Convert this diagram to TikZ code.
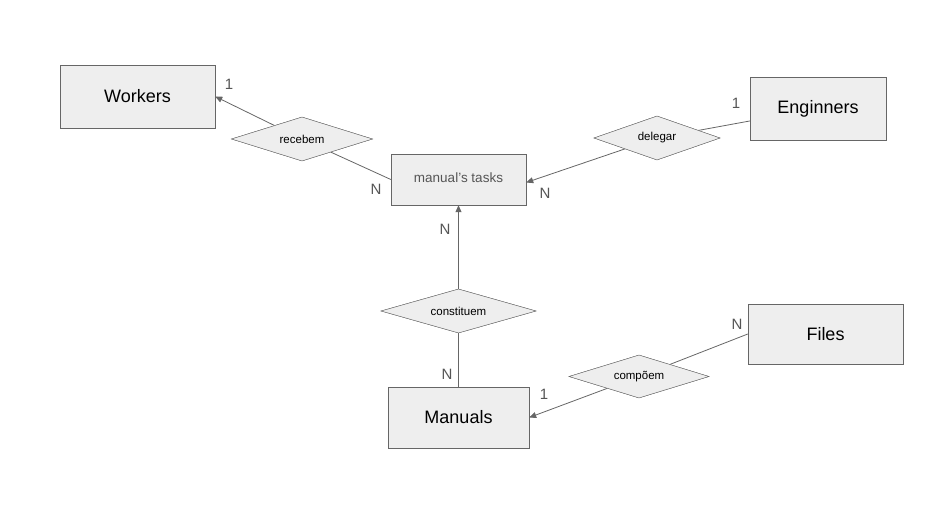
\documentclass[tikz,border=0pt]{standalone}
\usepackage{fontspec}
\setmainfont{Liberation Sans}
\usetikzlibrary{shapes.geometric,arrows.meta}
\definecolor{boxfill}{HTML}{EEEEEE}
\definecolor{boxline}{HTML}{666666}
\definecolor{cardtext}{HTML}{555555}
\begin{document}
\begin{tikzpicture}[x=1pt,y=-1pt,
  entity/.style={draw=boxline,fill=boxfill,inner sep=0pt,font=\fontsize{18}{21}\selectfont},
  relation/.style={diamond,draw=boxline,fill=boxfill,inner sep=0pt,aspect=3,font=\fontsize{11.5}{13}\selectfont},
  link/.style={draw=boxline,line width=0.8pt},
  card/.style={text=cardtext,font=\fontsize{15}{17}\selectfont}
]
\useasboundingbox (0,0) rectangle (934,510);
% entities
\node[entity,minimum width=155pt,minimum height=63pt] (workers) at (137.5,96.5) {Workers};
\node[entity,minimum width=135pt,minimum height=51pt,text=cardtext,font=\fontsize{13.5}{15}\selectfont] (tasks) at (458.5,179.5) {\raisebox{4pt}{manual's tasks}};
\node[entity,minimum width=136pt,minimum height=63pt] (enginners) at (818,108.5) {Enginners};
\node[entity,minimum width=141pt,minimum height=61pt] (manuals) at (458.5,417.5) {Manuals};
\node[entity,minimum width=155pt,minimum height=60pt] (files) at (825.5,334) {Files};
% relations
\node[relation,minimum width=141pt,minimum height=44pt] (recebem) at (302,139) {recebem};
\node[relation,minimum width=126pt,minimum height=44pt] (delegar) at (657,138) {delegar};
\node[relation,minimum width=155pt,minimum height=44pt] (constituem) at (458.5,311) {constituem};
\node[relation,minimum width=140pt,minimum height=43pt] (compoem) at (639,376.5) {compõem};
% connectors
\path[link] (tasks.west) -- (recebem);
\path[link,-{Triangle[length=7pt,width=6pt]}] (recebem) -- (workers.east);
\path[link] (enginners) -- (delegar);
\path[link,-{Triangle[length=7pt,width=6pt]}] (delegar) -- ([yshift=-3pt]tasks.east);
\path[link] (manuals) -- (constituem);
\path[link,-{Triangle[length=7pt,width=6pt]}] (constituem) -- (tasks);
\path[link] (files.west) -- (compoem);
\path[link,-{Triangle[length=7pt,width=6pt]}] (compoem) -- (manuals.east);
% redraw relations on top
\node[relation,minimum width=141pt,minimum height=44pt] at (recebem) {recebem};
\node[relation,minimum width=126pt,minimum height=44pt] at (delegar) {delegar};
\node[relation,minimum width=155pt,minimum height=44pt] at (constituem) {constituem};
\node[relation,minimum width=140pt,minimum height=43pt] at (compoem) {compõem};
% cardinalities
\node[card] (c1) at (229,84) {1};
\node[card] (c2) at (376,189) {N};
\node[card] (c3) at (736,103) {1};
\node[card] (c4) at (545,193) {N};
\node[card] (c5) at (445,229) {N};
\node[card] (c6) at (447,374) {N};
\node[card] (c7) at (544,394) {1};
\node[card] (c8) at (737,324) {N};
\end{tikzpicture}
\end{document}
